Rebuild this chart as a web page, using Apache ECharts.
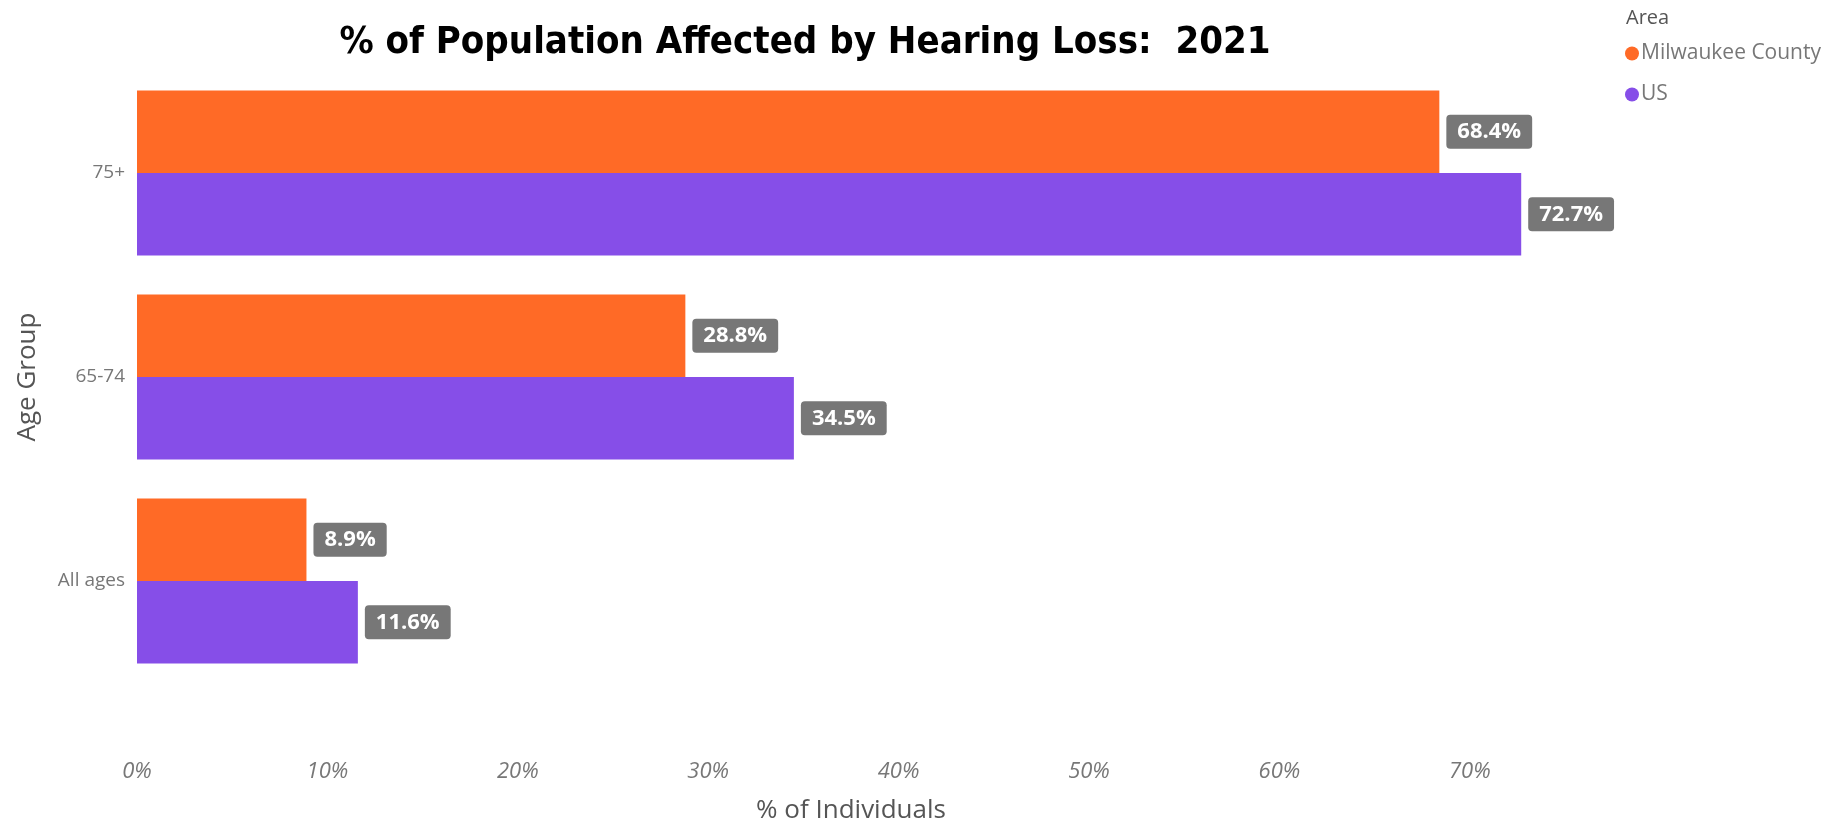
<!DOCTYPE html>
<html>
<head>
<meta charset="utf-8">
<script src="https://cdn.jsdelivr.net/npm/echarts@6/dist/echarts.min.js"></script>
<style>
html,body{margin:0;padding:0;background:#fff;}
#chart{width:1836px;height:824px;}
</style>
</head>
<body>
<div id="chart"></div>
<script>
const categories = ['75+', '65-74', 'All ages'];
const milwaukee = [68.4, 28.8, 8.9];
const us = [72.7, 34.5, 11.6];
const seriesNames = ['Milwaukee County', 'US'];
const xTicks = [0, 10, 20, 30, 40, 50, 60, 70];

const chart = echarts.init(document.getElementById('chart'));
const labelStyle = {
  show: true,
  position: 'right',
  distance: 7,
  formatter: p => p.value.toFixed(1) + '%',
  backgroundColor: '#777777',
  borderRadius: 4,
  padding: [7, 11, 5, 11],
  color: '#ffffff',
  fontWeight: 'bold',
  fontSize: 22,
  fontFamily: 'Open Sans'
};
chart.setOption({
  backgroundColor: '#ffffff',
  animation: false,
  title: [{
    text: '% of Population Affected by Hearing Loss:  2021',
    left: 800,
    textAlign: 'center',
    top: 19,
    textStyle: { fontFamily: 'DejaVu Sans Condensed', fontWeight: 'bold', fontSize: 38, color: '#000' }
  }, {
    text: 'Area',
    left: 1621,
    top: 3,
    textStyle: { fontFamily: 'Open Sans', fontWeight: 'normal', fontSize: 20, color: '#555' }
  }],
  legend: {
    orient: 'vertical',
    left: 1620,
    top: 38,
    icon: 'circle',
    itemWidth: 14,
    itemHeight: 14,
    itemGap: 20,
    textStyle: { fontFamily: 'Open Sans', fontSize: 21, color: '#777', padding: [0, 0, 0, -3] },
    data: seriesNames
  },
  grid: { left: 137, right: 271, top: 71, bottom: 141, containLabel: false, outerBoundsMode: 'none' },
  xAxis: {
    type: 'value',
    min: 0,
    max: 75,
    interval: 10,
    splitLine: { show: false },
    axisLine: { show: false },
    axisTick: { show: false },
    axisLabel: {
      showMaxLabel: false,
      formatter: v => xTicks.includes(v) ? v + '%' : '',
      fontStyle: 'italic',
      fontFamily: 'Open Sans',
      fontSize: 22,
      color: '#777',
      margin: 78
    },
    name: '% of Individuals',
    nameLocation: 'middle',
    nameGap: 115,
    nameTextStyle: { fontFamily: 'Open Sans', fontSize: 26, color: '#555' }
  },
  yAxis: {
    type: 'category',
    inverse: true,
    data: categories,
    axisLine: { show: false },
    axisTick: { show: false },
    axisLabel: { fontFamily: 'Open Sans', fontSize: 19, color: '#777', margin: 12 },
    name: 'Age Group',
    nameLocation: 'middle',
    nameGap: 96,
    nameRotate: 90,
    nameTextStyle: { fontFamily: 'Open Sans', fontSize: 26, color: '#555' }
  },
  series: [{
    name: seriesNames[0],
    type: 'bar',
    data: milwaukee,
    itemStyle: { color: '#FF6A26' },
    barGap: '0%',
    barCategoryGap: '19%',
    label: labelStyle
  }, {
    name: seriesNames[1],
    type: 'bar',
    data: us,
    itemStyle: { color: '#864EE8' },
    barGap: '0%',
    barCategoryGap: '19%',
    label: labelStyle
  }]
});
</script>
</body>
</html>
